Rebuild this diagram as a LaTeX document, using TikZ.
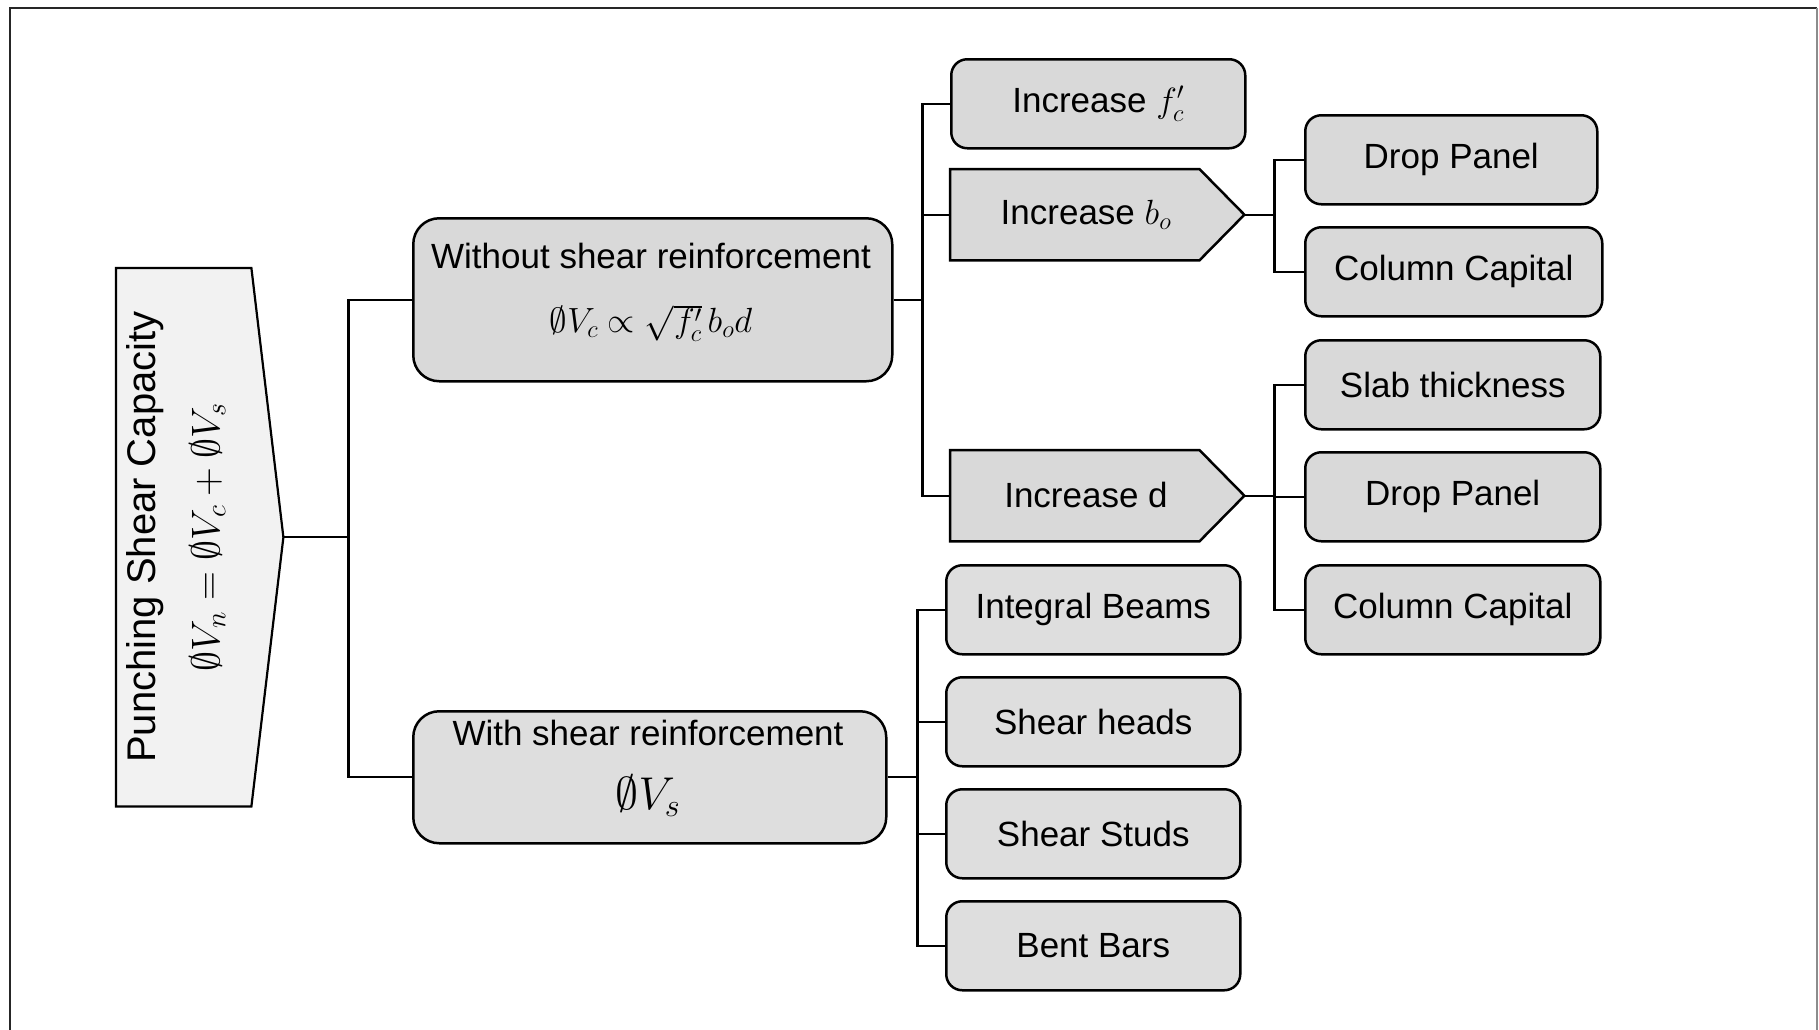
\RequirePackage{fix-cm}
\documentclass[tikz,border=0pt]{standalone}
\usepackage{fontspec}
\setmainfont{Liberation Sans}
\usetikzlibrary{calc,backgrounds}
\definecolor{boxfill}{HTML}{D9D9D9}
\definecolor{boxfilltwo}{HTML}{DEDEDE}
\definecolor{mainfill}{HTML}{F2F2F2}
\tikzset{
  box/.style={draw=black, line width=2.5pt, fill=boxfill, rounded corners=16pt,
    minimum height=89pt, inner sep=0pt, font=\fontsize{35}{42}\selectfont, anchor=north west},
  bigbox/.style={box, rounded corners=26pt},
  conn/.style={draw=black, line width=2.3pt},
  penta/.style={draw=black, line width=2.5pt, fill=boxfill, line join=miter},
  holder/.style={inner sep=0pt, anchor=north west},
  lbl/.style={font=\fontsize{35}{42}\selectfont, inner sep=0pt},
}
\begin{document}
\begin{tikzpicture}[x=1pt,y=-1pt]
\useasboundingbox (0,0) rectangle (1819,1029);
% frame
\draw[line width=1.5pt, black!85] (10,1040) -- (10,8) -- (1817,8);
\draw[line width=1.5pt, black!45] (1817,8) -- (1817,1040);

% main pentagon
\node[holder, minimum width=135pt, minimum height=538pt] (main) at (116,268) {};
\coordinate (maintip) at ($(main.east)+(32,0)$);
\draw[penta, fill=mainfill, line width=2.2pt] (main.north west) -- (main.north east) -- (maintip) -- (main.south east) -- (main.south west) -- cycle;
\node[rotate=90, align=center, inner sep=0pt, font=\fontsize{40}{64}\selectfont] (maintxt) at (176,537)
  {Punching Shear Capacity\\ $\emptyset V_n = \emptyset V_c + \emptyset V_s$};

% level 1
\node[bigbox, minimum width=479pt, minimum height=163pt] (wo) at (412,217) {};
\node[lbl] (wotxt) at (651,256) {Without shear reinforcement};
\node[lbl] (woeq) at (651,323) {$\emptyset V_c \propto \sqrt{f'_c}\, b_o d$};

\node[bigbox, fill=boxfilltwo, minimum width=473pt, minimum height=132pt] (w) at (412,710) {};
\node[lbl] (wtxt) at (648,733) {With shear reinforcement};
\node[lbl, font=\fontsize{46}{50}\selectfont] (weq) at (648,796) {$\emptyset V_s$};

% without branch
\node[box, minimum width=294pt] (fc) at (950,58) {Increase $f'_c$};

\node[holder, minimum width=249pt, minimum height=91pt] (bo) at (950,169) {};
\coordinate (botip) at ($(bo.east)+(45,0)$);
\draw[penta] (bo.north west) -- (bo.north east) -- (botip) -- (bo.south east) -- (bo.south west) -- cycle;
\node[lbl] (botxt) at (1086,215) {Increase $b_o$};

\node[holder, minimum width=249pt, minimum height=91pt] (dd) at (950,450) {};
\coordinate (ddtip) at ($(dd.east)+(45,0)$);
\draw[penta] (dd.north west) -- (dd.north east) -- (ddtip) -- (dd.south east) -- (dd.south west) -- cycle;
\node[lbl] (ddtxt) at (1086,495) {Increase d};

\node[box, minimum width=292pt] (dp1) at (1304,114) {Drop Panel};
\node[box, minimum width=297pt] (cc1) at (1304,226) {Column Capital};
\node[box, minimum width=295pt] (st) at (1304,339) {Slab thickness};
\node[box, minimum width=295pt] (dp2) at (1304,451) {Drop Panel};
\node[box, minimum width=295pt] (cc2) at (1304,564) {Column Capital};

% with branch
\node[box, fill=boxfilltwo, minimum width=294pt] (ib) at (945,564) {Integral Beams};
\node[box, fill=boxfilltwo, minimum width=294pt] (sh) at (945,676) {Shear heads};
\node[box, fill=boxfilltwo, minimum width=294pt] (ss) at (945,788) {Shear Studs};
\node[box, fill=boxfilltwo, minimum width=294pt] (bb) at (945,900) {Bent Bars};

% connectors
\draw[conn] (maintip) -- ++(65,0) coordinate (j0) |- (wo.west);
\draw[conn] (j0) |- (w.west);

\draw[conn] (wo.east) -- ++(29,0) coordinate (j1) |- (fc.west);
\draw[conn] (j1) |- (bo.west);
\draw[conn] (j1) |- (dd.west);

\draw[conn] (w.east) -- ++(30,0) coordinate (j2) |- (ib.west);
\draw[conn] (j2) |- (sh.west);
\draw[conn] (j2) |- (ss.west);
\draw[conn] (j2) |- (bb.west);

\draw[conn] (botip) -- ++(30,0) coordinate (j3) |- (dp1.west);
\draw[conn] (j3) |- (cc1.west);

\draw[conn] (ddtip) -- ++(30,0) coordinate (j4) |- (st.west);
\draw[conn] (j4) |- (dp2.west);
\draw[conn] (j4) |- (cc2.west);
\end{tikzpicture}
\end{document}
